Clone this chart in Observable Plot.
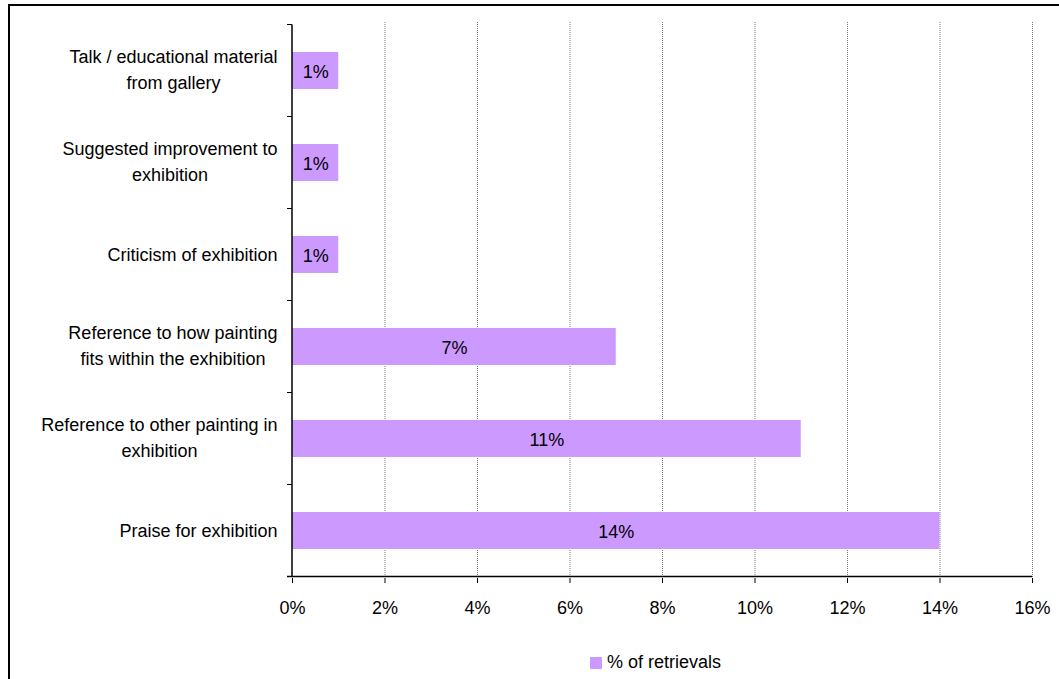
<!DOCTYPE html>
<html>
<head>
<meta charset="utf-8">
<script src="https://cdn.jsdelivr.net/npm/d3@7"></script>
<script src="https://cdn.jsdelivr.net/npm/@observablehq/plot@0.6"></script>
<style>
  body { margin: 0; background: #fff; font-family: "Liberation Sans", Arial, sans-serif; }
  #wrap { position: relative; width: 1059px; height: 679px; overflow: hidden; background: #fff; }
  #frame { position: absolute; left: 8px; top: 4px; width: 1200px; height: 800px;
           border-left: 2px solid #000; border-top: 2px solid #000; pointer-events: none; }
  #chart { position: absolute; left: 0; top: 0; }
  #legend { position: absolute; left: 590px; top: 652px; font-size: 18px; color: #000;
            display: flex; align-items: center; gap: 5px; }
  #legend .sw { width: 12px; height: 12px; background: #cc99ff; }
</style>
</head>
<body>
<div id="wrap">
  <div id="chart"></div>
  <div id="frame"></div>
  <div id="legend"><span class="sw"></span><span>% of retrievals</span></div>
</div>
<script>
// Categories top to bottom, with their line breaks
const categories = [
  "Talk / educational material\nfrom gallery",
  "Suggested improvement to\nexhibition",
  "Criticism of exhibition",
  "Reference to how painting\nfits within the exhibition",
  "Reference to other painting in\nexhibition",
  "Praise for exhibition"
];
// Share of retrievals, in percent
const values = [1, 1, 1, 7, 11, 14];
const xTicks = [0, 2, 4, 6, 8, 10, 12, 14, 16];

const data = categories.map((c, i) => ({category: c, value: values[i]}));

const FONT = '"Liberation Sans", Arial, sans-serif';
const FS = 18;
const barColor = "#cc99ff";

// Measure the longest line of each category so lines can be centred
// within a right-aligned block beside the axis.
const ctx = document.createElement("canvas").getContext("2d");
ctx.font = `${FS}px ${FONT}`;
const blockWidth = c => d3.max(c.split("\n"), l => ctx.measureText(l).width);

// Short tick marks on the category boundaries plus the baseline.
function categoryFrame(index, scales, values, dims) {
  const {x, y} = scales;
  const step = typeof y.step === "function" ? y.step() : (dims.height - dims.marginTop - dims.marginBottom) / categories.length;
  const bw = typeof y.bandwidth === "function" ? y.bandwidth() : step * 0.4;
  const x0 = x(0);
  const g = d3.create("svg:g").attr("stroke", "#000").attr("fill", "none");
  const bounds = categories.map(c => y(c) + bw / 2 - step / 2);
  bounds.push(y(categories[categories.length - 1]) + bw / 2 + step / 2);
  for (const b of bounds) {
    g.append("line").attr("x1", x0 - 5).attr("x2", x0).attr("y1", b).attr("y2", b);
  }
  const yb = bounds[bounds.length - 1];
  g.append("line").attr("x1", x0 - 5).attr("x2", x(16)).attr("y1", yb).attr("y2", yb).attr("stroke-width", 1.5);
  g.append("line").attr("x1", x0).attr("x2", x0).attr("y1", bounds[0]).attr("y2", yb).attr("stroke-width", 1.5);
  return g.node();
}

const chart = Plot.plot({
  width: 1059,
  height: 620,
  marginLeft: 292,
  marginRight: 27,
  marginTop: 22,
  marginBottom: 42,
  style: {fontFamily: FONT, fontSize: `${FS}px`, color: "#000", background: "transparent"},
  x: {domain: [0, 16], label: null},
  y: {domain: categories, paddingInner: 0.6, paddingOuter: 0.3, axis: null, label: null},
  marks: [
    Plot.gridX(xTicks.slice(1), {stroke: "#777", strokeOpacity: 1, strokeDasharray: "1,1"}),
    Plot.barX(data, {x: "value", y: "category", fill: barColor}),
    Plot.text(data, {x: d => d.value / 2, y: "category", text: d => `${d.value}%`, fontSize: FS, fill: "#000", dy: 1.5}),
    ...categories.map(c =>
      Plot.text([c], {
        y: d => d,
        text: d => d,
        frameAnchor: "left",
        textAnchor: "middle",
        lineAnchor: "middle",
        lineHeight: 1.45,
        fontSize: FS,
        fill: "#000",
        dx: -(15 + blockWidth(c) / 2),
        dy: c.includes("\n") ? -3.5 : -2
      })
    ),
    categoryFrame,
    Plot.axisX({ticks: xTicks, tickFormat: d => `${d}%`, tickSize: 5, tickPadding: 18, fontSize: FS, label: null})
  ]
});
document.getElementById("chart").appendChild(chart);
</script>
</body>
</html>
